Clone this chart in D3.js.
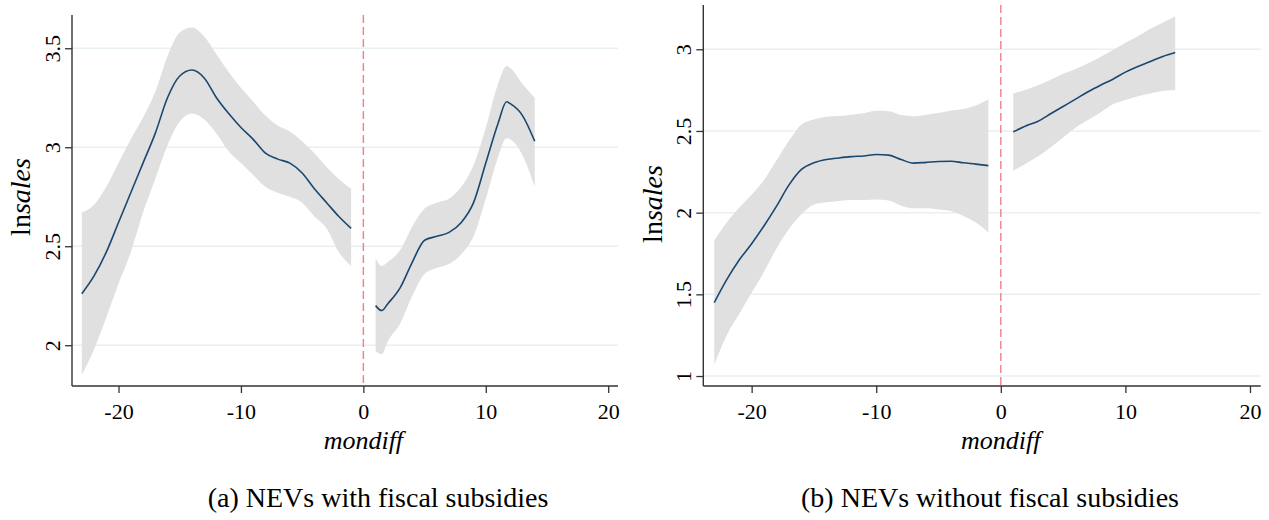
<!DOCTYPE html>
<html><head><meta charset="utf-8">
<script src="https://cdn.jsdelivr.net/npm/d3@7"></script>
<style>
html,body{margin:0;padding:0;background:#fff;}
svg{display:block;}
text{font-family:"Liberation Serif","Times New Roman",serif;fill:#000;}
</style></head>
<body>
<svg id="chart" width="1269" height="520"></svg>
<script>
// ---------- data ----------
const xTicks = [-20, -10, 0, 10, 20];
const yTicksA = [2, 2.5, 3, 3.5];
const yTicksB = [1, 1.5, 2, 2.5, 3];
const captionA = "(a) NEVs with fiscal subsidies";
const captionB = "(b) NEVs without fiscal subsidies";

const aPreX  = [-23,-22,-21,-20,-19,-18,-17,-16,-15,-14,-13,-12,-11,-10,-9,-8,-7,-6,-5,-4,-3,-2,-1];
const aPreFit= [2.26,2.35,2.47,2.62,2.77,2.92,3.07,3.25,3.36,3.39,3.35,3.25,3.17,3.10,3.04,2.97,2.94,2.92,2.87,2.79,2.72,2.65,2.59];
const aPreHi = [2.67,2.71,2.80,2.92,3.04,3.15,3.28,3.46,3.58,3.605,3.56,3.47,3.38,3.30,3.23,3.16,3.11,3.08,3.03,2.97,2.90,2.84,2.79];
const aPreLo = [1.85,1.98,2.14,2.31,2.47,2.67,2.84,3.01,3.13,3.17,3.14,3.07,2.98,2.92,2.86,2.80,2.77,2.75,2.72,2.65,2.59,2.47,2.40];

const aPostX  = [1,1.5,2,3,4,5,6,7,8,9,10,11,11.7,12,13,14];
const aPostFit= [2.20,2.175,2.21,2.29,2.42,2.53,2.55,2.57,2.62,2.72,2.92,3.12,3.23,3.22,3.16,3.03];
const aPostHi = [2.44,2.40,2.42,2.48,2.60,2.69,2.72,2.74,2.80,2.91,3.10,3.32,3.41,3.40,3.32,3.25];
const aPostLo = [1.97,1.955,2.02,2.11,2.25,2.36,2.39,2.41,2.46,2.55,2.74,2.95,3.045,3.04,2.96,2.80];

const bPreX  = [-23,-22,-21,-20,-19,-18,-17,-16,-15,-14,-13,-12,-11,-10,-9,-8,-7,-6,-5,-4,-3,-2,-1];
const bPreFit= [1.45,1.59,1.71,1.81,1.92,2.04,2.17,2.265,2.305,2.325,2.335,2.343,2.347,2.356,2.352,2.325,2.303,2.308,2.313,2.315,2.305,2.297,2.288];
const bPreHi = [1.83,1.94,2.03,2.11,2.20,2.32,2.44,2.54,2.57,2.587,2.592,2.60,2.608,2.623,2.62,2.597,2.59,2.60,2.61,2.625,2.635,2.656,2.694];
const bPreLo = [1.07,1.25,1.38,1.51,1.64,1.78,1.90,1.99,2.05,2.063,2.072,2.077,2.077,2.08,2.075,2.043,2.027,2.027,2.02,2.01,1.98,1.94,1.88];

const bPostX  = [1,2,3,4,5,6,7,8,9,10,11,12,13,14];
const bPostFit= [2.495,2.53,2.56,2.605,2.65,2.695,2.74,2.78,2.817,2.86,2.895,2.925,2.956,2.98];
const bPostHi = [2.73,2.753,2.78,2.814,2.85,2.88,2.915,2.953,2.995,3.04,3.08,3.125,3.163,3.20];
const bPostLo = [2.257,2.30,2.345,2.40,2.46,2.52,2.567,2.613,2.663,2.69,2.713,2.73,2.744,2.751];

// ---------- layout ----------
const panels = [
  {x0:72, x1:618, xDom:[-23.8,20.8], yTop:15, yBot:386, yDom:[1.794,3.668], yTicks:yTicksA,
   titleX:30, titleY:197, caption:captionA, capX:378,
   segs:[[aPreX,aPreFit,aPreHi,aPreLo],[aPostX,aPostFit,aPostHi,aPostLo]]},
  {x0:703.3, x1:1260.7, xDom:[-23.88,20.86], yTop:5, yBot:386, yDom:[0.939,3.271], yTicks:yTicksB,
   titleX:662, titleY:204, caption:captionB, capX:990,
   segs:[[bPreX,bPreFit,bPreHi,bPreLo],[bPostX,bPostFit,bPostHi,bPostLo]]}
];

const svg = d3.select("#chart");
const AX = "#333";

panels.forEach(p => {
  const x = d3.scaleLinear().domain(p.xDom).range([p.x0, p.x1]);
  const y = d3.scaleLinear().domain(p.yDom).range([p.yBot, p.yTop]);
  const g = svg.append("g");

  // gridlines
  g.selectAll(".grid").data(p.yTicks).enter().append("line")
    .attr("x1", p.x0).attr("x2", p.x1)
    .attr("y1", d => y(d)).attr("y2", d => y(d))
    .attr("stroke", "#e8f0f2").attr("stroke-width", 1.5);

  // bands and fits
  p.segs.forEach(([xs, fit, hi, lo]) => {
    const pts = xs.map((v, i) => ({x: v, f: fit[i], h: hi[i], l: lo[i]}));
    g.append("path").datum(pts)
      .attr("d", d3.area().x(d => x(d.x)).y0(d => y(d.l)).y1(d => y(d.h)).curve(d3.curveMonotoneX))
      .attr("fill", "#e0e0e0");
    g.append("path").datum(pts)
      .attr("d", d3.line().x(d => x(d.x)).y(d => y(d.f)).curve(d3.curveMonotoneX))
      .attr("fill", "none").attr("stroke", "#1a476f").attr("stroke-width", 1.6);
  });

  // red dashed line at 0
  g.append("line")
    .attr("x1", x(0)).attr("x2", x(0)).attr("y1", p.yTop).attr("y2", p.yBot)
    .attr("stroke", "#f08080").attr("stroke-width", 1.4).attr("stroke-dasharray", "8,4");

  // x axis
  const xa = g.append("g").attr("transform", `translate(0,${p.yBot})`)
    .call(d3.axisBottom(x).tickValues(xTicks).tickSize(7).tickSizeOuter(0).tickPadding(10).tickFormat(d3.format("d")));
  xa.select(".domain").attr("stroke", AX).attr("stroke-width", 1.4).attr("d", `M${p.x0},0H${p.x1}`);
  xa.selectAll(".tick line").attr("stroke", AX).attr("stroke-width", 1.3);
  xa.selectAll(".tick text").attr("font-size", 22).attr("fill", "#000")
    .text(d => d < 0 ? "-" + Math.abs(d) : String(d));

  // y axis
  const ya = g.append("g").attr("transform", `translate(${p.x0},0)`)
    .call(d3.axisLeft(y).tickValues(p.yTicks).tickSize(7).tickSizeOuter(0).tickFormat(d => String(d)));
  ya.select(".domain").attr("stroke", AX).attr("stroke-width", 1.4).attr("d", `M0,${p.yTop}V${p.yBot}`);
  ya.selectAll(".tick line").attr("stroke", AX).attr("stroke-width", 1.3);
  ya.selectAll(".tick text")
    .attr("font-size", 22).attr("fill", "#000")
    .attr("x", null).attr("dy", null)
    .attr("text-anchor", "middle")
    .attr("transform", "translate(-12,0) rotate(-90)");

  // y title
  const yt = svg.append("text")
    .attr("transform", `translate(${p.titleX},${p.titleY}) rotate(-90)`)
    .attr("text-anchor", "middle").attr("font-size", 28);
  yt.append("tspan").text("ln");
  yt.append("tspan").attr("font-style", "italic").text("sales");

  // x title
  svg.append("text").attr("x", x(0)).attr("y", 449)
    .attr("text-anchor", "middle").attr("font-size", 26).attr("font-style", "italic").text("mondiff");

  // caption
  svg.append("text").attr("x", p.capX).attr("y", 507)
    .attr("text-anchor", "middle").attr("font-size", 28).text(p.caption);
});
</script>
</body></html>
